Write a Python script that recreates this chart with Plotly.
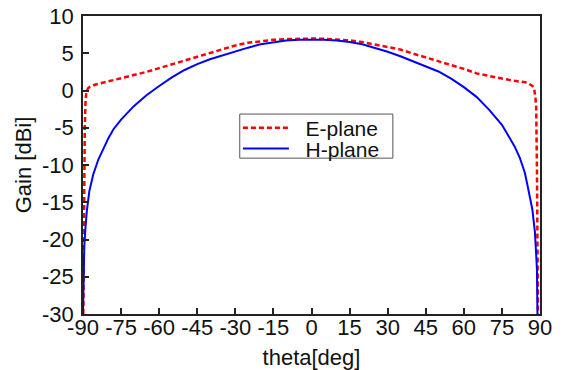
import plotly.graph_objects as go

# E-plane (red dashed)
e_theta = [-89.9, -89.7, -89.5, -89.3, -89.0, -88.7, -88.0, -87.3, -85, -80, -75, -70, -65, -60, -55, -50,
           -45, -40, -35, -30, -25, -20, -15, -10, -5, 0, 5, 10, 15, 20, 25, 30, 35, 40, 45, 50, 55,
           60, 65, 70, 75, 80, 85, 87, 87.7, 88.2, 88.5, 88.8, 89.0, 89.2]
e_gain = [-30, -20, -12, -5, -1.5, -0.2, 0.3, 0.5, 0.8, 1.2, 1.6, 2.0, 2.5, 3.0, 3.5, 4.0,
          4.5, 4.95, 5.5, 6.05, 6.4, 6.65, 6.8, 6.9, 6.95, 6.97, 6.95, 6.88, 6.73, 6.5, 6.2, 5.85, 5.5, 4.95, 4.45, 4.0, 3.5,
          2.9, 2.3, 1.9, 1.6, 1.3, 1.05, 0.6, 0.27, -1.0, -2.2, -10.7, -18, -30]

# H-plane (blue solid)
h_theta = [-90, -89.8, -89.5, -89.0, -88.5, -87.5, -86, -84, -82, -80, -78, -75, -70, -65, -60, -55, -50,
           -45, -40, -35, -30, -25, -20, -15, -10, -5, 0, 5, 10, 15, 20, 25, 30, 35, 40, 45, 50, 55,
           60, 65, 70, 75, 78, 80, 82, 84, 85, 86, 87, 88, 88.5, 88.8, 89.0]
h_gain = [-30, -24, -21, -18.3, -16.2, -13.5, -11.3, -9.3, -7.8, -6.4, -5.2, -3.9, -2.1, -0.63, 0.6, 1.75, 2.75,
          3.55, 4.2, 4.75, 5.25, 5.75, 6.2, 6.5, 6.7, 6.82, 6.85, 6.82, 6.7, 6.5, 6.2, 5.75, 5.2, 4.6, 3.9, 3.25, 2.55, 1.6,
          0.45, -0.85, -2.6, -4.6, -6.3, -7.5, -9.0, -11.0, -12.6, -14.2, -16, -19, -21.4, -24, -30]

x_ticks = [-90, -75, -60, -45, -30, -15, 0, 15, 30, 45, 60, 75, 90]
y_ticks = [-30, -25, -20, -15, -10, -5, 0, 5, 10]
series_names = ["E-plane", "H-plane"]

FONT = "Liberation Sans, Arial, sans-serif"
TXT = "#111"
PAD = "\u00a0\u00a0"  # small gap between legend line sample and label

fig = go.Figure()
fig.add_trace(go.Scatter(x=e_theta, y=e_gain, mode="lines", name=PAD + series_names[0], legend="legend",
                         line=dict(color="#ff0000", width=2.5, dash="5px,3px")))
fig.add_trace(go.Scatter(x=h_theta, y=h_gain, mode="lines", name=PAD + series_names[1], legend="legend2",
                         line=dict(color="#0000ff", width=2)))

axis_common = dict(showgrid=False, zeroline=False, showline=True, linecolor="#222", linewidth=1.5,
                   mirror=True, ticks="inside", ticklen=6, tickwidth=1.5, tickcolor="#222",
                   automargin=False, ticklabeloverflow="allow",
                   tickfont=dict(family=FONT, size=22, color=TXT))

fig.update_xaxes(range=[-90, 90], tickvals=x_ticks, ticktext=[str(v) for v in x_ticks],
                 ticklabelstandoff=-7,
                 title=dict(text="theta[deg]", font=dict(family=FONT, size=22, color=TXT), standoff=15),
                 **axis_common)
fig.update_yaxes(range=[-30, 10], tickvals=y_ticks, ticktext=[str(v) for v in y_ticks],
                 ticklabelstandoff=3,
                 title=dict(text="Gain [dBi]", font=dict(family=FONT, size=22, color=TXT), standoff=4),
                 **axis_common)

leg_common = dict(xanchor="left", yanchor="middle", bgcolor="rgba(0,0,0,0)", borderwidth=0,
                  font=dict(family=FONT, size=21, color=TXT), itemwidth=46)

fig.update_layout(
    width=566, height=370,
    margin=dict(l=83, r=26, t=16, b=56, autoexpand=False),
    paper_bgcolor="white", plot_bgcolor="white",
    font=dict(family=FONT, size=22, color=TXT),
    legend=dict(x=0.339, y=0.624, **leg_common),
    legend2=dict(x=0.339, y=0.554, **leg_common),
    showlegend=True,
    shapes=[dict(type="rect", xref="paper", yref="paper", x0=0.343, x1=0.678, y0=0.523, y1=0.671,
                 line=dict(color="#555", width=1), fillcolor="white", layer="above")],
)

fig.write_html("out.html", config={"displayModeBar": False},
               post_script="document.body.style.margin='0';")
